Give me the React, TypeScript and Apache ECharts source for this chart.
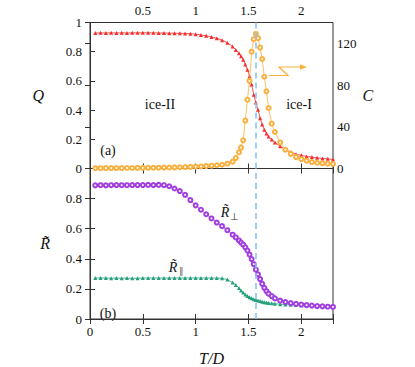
import React, { useEffect, useRef } from 'react';
import * as echarts from 'echarts';

const T = [0.05,0.1,0.15,0.2,0.25,0.3,0.35,0.4,0.45,0.5,0.55,0.6,0.65,0.7,0.75,0.8,0.85,0.9,0.95,1.0,1.05,1.1,1.15,1.2,1.25,1.3,1.35,1.38,1.41,1.43,1.45,1.47,1.49,1.51,1.53,1.55,1.57,1.59,1.61,1.63,1.65,1.67,1.69,1.72,1.75,1.8,1.85,1.9,1.95,2.0,2.05,2.1,2.15,2.2,2.25,2.3];

const Q = [0.928,0.929,0.928,0.929,0.928,0.929,0.928,0.929,0.929,0.93,0.929,0.929,0.928,0.928,0.927,0.927,0.926,
  0.925,0.923,0.92,0.915,0.909,0.901,0.892,0.879,0.862,0.835,
  0.812,0.789,0.768,0.745,0.712,0.676,0.632,0.575,0.505,0.452,0.402,0.345,0.302,0.266,0.24,0.22,
  0.198,0.178,
  0.152,0.13,0.113,0.098,0.09,0.083,0.078,0.073,0.069,0.066,0.062];

const C = [0.3,0.3,0.35,0.4,0.4,0.45,0.5,0.5,0.55,0.6,0.65,0.7,0.75,0.85,0.95,1.05,1.2,
  1.35,1.5,1.75,2.0,2.3,2.7,3.1,3.6,4.6,6.5,
  10,15.5,20,27,46,66,84,112,124,129,125,116,105,88,74,58,
  43,35,
  25,18,14,11,9,7.5,6.2,5.5,5,4.6,4.3];

const Rperp = [0.888,0.889,0.888,0.889,0.89,0.889,0.889,0.89,0.89,0.89,0.891,0.89,0.891,0.889,0.882,0.867,0.85,
  0.825,0.79,0.755,0.726,0.696,0.668,0.641,0.617,0.59,0.56,
  0.542,0.522,0.508,0.494,0.476,0.455,0.428,0.398,0.364,0.328,0.297,0.265,0.234,0.207,0.185,0.168,
  0.152,0.137,
  0.122,0.113,0.106,0.1,0.096,0.092,0.089,0.086,0.084,0.082,0.08];

const Rpar = [0.272,0.273,0.272,0.271,0.272,0.271,0.272,0.27,0.271,0.272,0.272,0.273,0.272,0.272,0.272,0.273,0.272,
  0.272,0.273,0.273,0.272,0.273,0.272,0.272,0.27,0.262,0.242,
  0.226,0.206,0.19,0.176,0.163,0.153,0.145,0.138,0.132,0.127,0.123,0.119,0.115,0.112,0.109,0.107,
  0.104,0.101,
  0.098,0.096,0.094,0.093,0.092,0.091,0.09,0.089,0.089,0.088,0.088];

const Tc = 1.575;

const FONT = 'Liberation Serif';
const RED = '#f42c2c';
const ORANGE = '#f9b03e';
const PURPLE = '#a13de0';
const GREEN = '#23a07a';
const DASH = '#86c4f5';
const AXIS = '#333';

function pairs(xs: number[], ys: number[]) {
  return xs.map((x, i) => [x, ys[i]]);
}

const fmtX = (showZero: boolean) => (v: number) => {
  if (v === 0) return showZero ? '0' : '';
  if (Math.abs(v * 2 - Math.round(v * 2)) > 1e-6) return '';
  return String(v);
};

export default function App() {
  const ref = useRef<HTMLDivElement>(null);
  useEffect(() => {
    if (!ref.current) return;
    const chart = echarts.init(ref.current, undefined, { renderer: 'svg' });
    const tick = { show: true, inside: true, length: 5, lineStyle: { color: AXIS } };
    const lbl = { fontFamily: FONT, fontSize: 13, color: '#111' };
    const nameStyle = { fontFamily: FONT, fontSize: 16, fontStyle: 'italic', color: '#111' };
    const xBase = { type: 'value', min: 0, max: 2.3, interval: 0.5, splitLine: { show: false }, axisLine: { show: true, lineStyle: { color: AXIS } }, axisTick: tick };
    const dashLine = {
      silent: true,
      symbol: ['none', 'none'],
      label: { show: false },
      lineStyle: { color: DASH, type: [6, 4], width: 1.6 },
      data: [{ xAxis: Tc }],
    };
    const option: any = {
      animation: false,
      backgroundColor: '#fff',
      textStyle: { fontFamily: FONT },
      grid: [
        { left: 90, top: 22.5, width: 243, height: 146, show: true, borderColor: AXIS, borderWidth: 1, containLabel: false },
        { left: 90, top: 168.5, width: 243, height: 156.7, show: true, borderColor: AXIS, borderWidth: 1, containLabel: false },
      ],
      xAxis: [
        { ...xBase, gridIndex: 0, position: 'top', axisLabel: { ...lbl, margin: 6, formatter: fmtX(false) } },
        { ...xBase, gridIndex: 0, position: 'bottom', axisLabel: { show: false } },
        { ...xBase, gridIndex: 1, position: 'bottom', axisLabel: { ...lbl, margin: 6, formatter: fmtX(true) },
          name: 'T/D', nameLocation: 'middle', nameGap: 31, nameTextStyle: nameStyle },
        { ...xBase, gridIndex: 1, position: 'top', axisLabel: { show: false } },
      ],
      yAxis: [
        { type: 'value', gridIndex: 0, position: 'left', min: 0, max: 1, interval: 0.2, splitLine: { show: false },
          axisLine: { show: true, lineStyle: { color: AXIS } }, axisTick: tick,
          axisLabel: { ...lbl, margin: 8, formatter: (v: number) => String(Math.round(v * 10) / 10) },
          name: 'Q', nameLocation: 'middle', nameGap: 46, nameRotate: 0, nameTextStyle: nameStyle },
        { type: 'value', gridIndex: 0, position: 'right', min: 0, max: 140, interval: 40, splitLine: { show: false },
          axisLine: { show: true, lineStyle: { color: AXIS } }, axisTick: tick,
          axisLabel: { ...lbl, margin: 4, formatter: (v: number) => (v % 40 === 0 ? String(v) : '') },
          name: 'C', nameLocation: 'middle', nameGap: 28, nameRotate: 0, nameTextStyle: nameStyle },
        { type: 'value', gridIndex: 1, position: 'left', min: 0, max: 1, interval: 0.2, splitLine: { show: false },
          axisLine: { show: true, lineStyle: { color: AXIS } }, axisTick: tick,
          axisLabel: { ...lbl, margin: 8, formatter: (v: number) => (v >= 0.99 ? '' : String(Math.round(v * 10) / 10)) },
          name: 'R\u0303', nameLocation: 'middle', nameGap: 40, nameRotate: 0, nameTextStyle: nameStyle },
        { type: 'value', gridIndex: 1, position: 'right', min: 0, max: 1, interval: 0.2, splitLine: { show: false },
          axisLine: { show: true, lineStyle: { color: AXIS } }, axisTick: tick, axisLabel: { show: false } },
      ],
      series: [
        { type: 'line', name: 'Q', xAxisIndex: 0, yAxisIndex: 0, data: pairs(T, Q),
          symbol: 'triangle', symbolSize: 4, itemStyle: { color: RED }, lineStyle: { color: RED, width: 0.8 }, z: 3 },
        { type: 'line', name: 'C', xAxisIndex: 0, yAxisIndex: 1, data: pairs(T, C),
          symbol: 'emptyCircle', symbolSize: 4, itemStyle: { color: ORANGE, borderWidth: 0.9 }, lineStyle: { color: ORANGE, width: 0.8 }, z: 4,
          markLine: dashLine },
        { type: 'line', name: 'Rpar', xAxisIndex: 2, yAxisIndex: 2, data: pairs(T, Rpar),
          symbol: 'triangle', symbolSize: 4, itemStyle: { color: GREEN }, lineStyle: { color: GREEN, width: 0.8 }, z: 3 },
        { type: 'line', name: 'Rperp', xAxisIndex: 2, yAxisIndex: 2, data: pairs(T, Rperp),
          symbol: 'emptyCircle', symbolSize: 4, itemStyle: { color: PURPLE, borderWidth: 0.9 }, lineStyle: { color: PURPLE, width: 0.8 }, z: 4,
          markLine: dashLine },
      ],
      graphic: [
        { type: 'text', x: 160, y: 104, style: { text: 'ice-II', fontFamily: FONT, fontSize: 14, fill: '#111', align: 'center', verticalAlign: 'middle' } },
        { type: 'text', x: 299, y: 104, style: { text: 'ice-I', fontFamily: FONT, fontSize: 14, fill: '#111', align: 'center', verticalAlign: 'middle' } },
        { type: 'text', x: 108, y: 150, style: { text: '(a)', fontFamily: FONT, fontSize: 14, fill: '#111', align: 'center', verticalAlign: 'middle' } },
        { type: 'text', x: 108, y: 313, style: { text: '(b)', fontFamily: FONT, fontSize: 14, fill: '#111', align: 'center', verticalAlign: 'middle' } },
        { type: 'text', x: 225, y: 212, style: { text: 'R\u0303', fontFamily: FONT, fontSize: 14, fontStyle: 'italic', fill: '#111', align: 'center', verticalAlign: 'middle' } },
        { type: 'text', x: 234, y: 216, style: { text: '\u22a5', fontFamily: FONT, fontSize: 10, fill: '#333', align: 'center', verticalAlign: 'middle' } },
        { type: 'text', x: 173, y: 267, style: { text: 'R\u0303', fontFamily: FONT, fontSize: 14, fontStyle: 'italic', fill: '#111', align: 'center', verticalAlign: 'middle' } },
        { type: 'text', x: 181, y: 271, style: { text: '\u2225', fontFamily: FONT, fontSize: 9, fill: '#555', align: 'center', verticalAlign: 'middle' } },
        { type: 'polyline', shape: { points: [[269, 75.5], [288, 75.5], [279, 67], [301, 67]] },
          style: { stroke: ORANGE, lineWidth: 1.2, fill: null } },
        { type: 'polygon', shape: { points: [[307, 67], [300, 64.3], [300, 69.7]] }, style: { fill: ORANGE } },
      ],
    };
    chart.setOption(option);
    return () => chart.dispose();
  }, []);
  return <div ref={ref} style={{ position: 'fixed', left: 0, top: 0, width: 415, height: 367, background: '#fff' }} />;
}
